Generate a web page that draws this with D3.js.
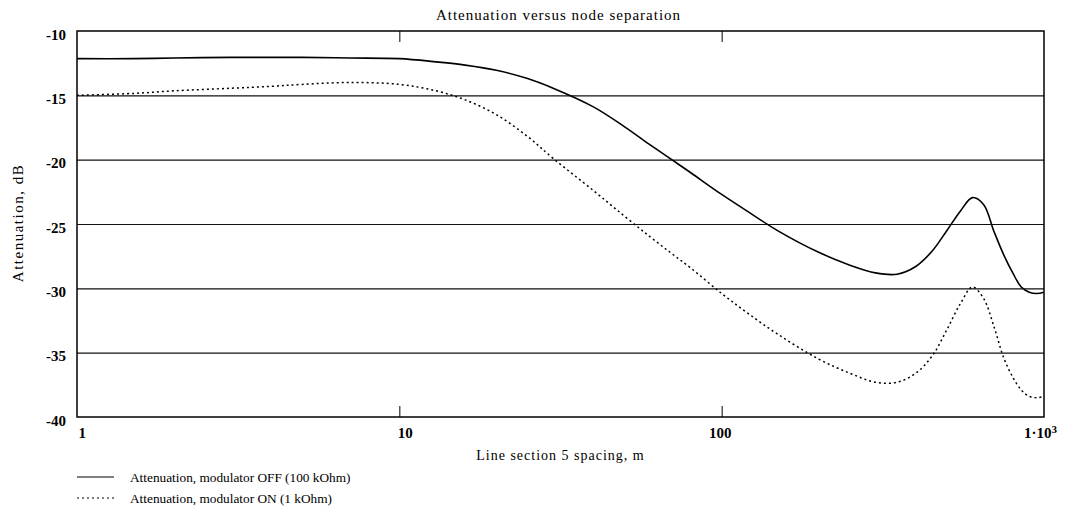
<!DOCTYPE html>
<html>
<head>
<meta charset="utf-8">
<script src="https://cdn.jsdelivr.net/npm/d3@7"></script>
<style>
  body { margin: 0; background: #fff; }
  text { font-family: "Liberation Serif", "Times New Roman", serif; fill: #000; }
</style>
</head>
<body>
<div id="chart"></div>
<script>
var w = 1066;
var h = 511;
var margin = {top: 31, right: 22, bottom: 94, left: 77};

// line section spacing, m
var spacing = [1, 1.5, 2, 3, 4, 5, 7, 10, 13, 16, 20, 25, 30, 40, 50, 60, 70, 80, 100, 120, 150,
               200, 250, 300, 350, 400, 450, 500, 550, 600, 650, 700, 750, 800, 850, 900, 950, 1000];
// attenuation, dB
var modOff = [-12.15, -12.15, -12.1, -12.05, -12.05, -12.05, -12.1, -12.15, -12.4, -12.65, -13.05, -13.7,
              -14.45, -15.9, -17.45, -18.85, -20.0, -21.0, -22.7, -24.0, -25.55, -27.2, -28.2, -28.8,
              -28.9, -28.3, -27.1, -25.5, -24.0, -22.95, -23.5, -25.6, -27.4, -28.8, -29.9, -30.3,
              -30.4, -30.3];
var modOn = [-15.0, -14.85, -14.65, -14.45, -14.3, -14.15, -14.0, -14.15, -14.65, -15.35, -16.5, -18.2,
             -19.9, -22.4, -24.4, -26.0, -27.3, -28.4, -30.4, -31.9, -33.6, -35.5, -36.6, -37.3,
             -37.3, -36.6, -35.25, -33.2, -31.2, -29.9, -30.8, -33.0, -35.4, -36.9, -37.9, -38.4,
             -38.5, -38.4];

var yTicks = [-10, -15, -20, -25, -30, -35, -40];
var yGrid = [-15, -20, -25, -30, -35];
var xTicks = [1, 10, 100, 1000];
var xTickLabels = ["1", "10", "100", "1\u00b710"];
var innerTicks = [10, 100];

var legendLabels = ["Attenuation, modulator OFF (100 kOhm)", "Attenuation, modulator ON (1 kOhm)"];

var x0 = margin.left, x1 = w - margin.right;
var y0 = margin.top, y1 = h - margin.bottom;

var xScale = d3.scaleLog().domain([1, 1000]).range([x0, x1]);
var yScale = d3.scaleLinear().domain([-40, -10]).range([y1, y0]);

var svg = d3.select("#chart")
            .append("svg")
            .attr("width", w)
            .attr("height", h);

// horizontal grid
var grid = d3.axisLeft(yScale).tickValues(yGrid).tickSize(-(x1 - x0)).tickFormat("");
svg.append("g")
   .attr("transform", "translate(" + x0 + ",0)")
   .call(grid)
   .call(function(g) { g.select(".domain").remove(); })
   .selectAll("line")
   .attr("stroke", "#111")
   .attr("stroke-width", 1.2);

// inner ticks on top and bottom
svg.append("g")
   .attr("transform", "translate(0," + y1 + ")")
   .call(d3.axisTop(xScale).tickValues(innerTicks).tickSize(11).tickFormat(""))
   .call(function(g) { g.select(".domain").remove(); })
   .selectAll("line").attr("stroke", "#000");
svg.append("g")
   .attr("transform", "translate(0," + y0 + ")")
   .call(d3.axisBottom(xScale).tickValues(innerTicks).tickSize(11).tickFormat(""))
   .call(function(g) { g.select(".domain").remove(); })
   .selectAll("line").attr("stroke", "#000");

// frame
svg.append("rect")
   .attr("x", x0).attr("y", y0)
   .attr("width", x1 - x0).attr("height", y1 - y0)
   .attr("fill", "none")
   .attr("stroke", "#000")
   .attr("stroke-width", 1.5);

// y tick labels
var yAxis = d3.axisLeft(yScale).tickValues(yTicks).tickSize(0).tickPadding(11)
              .tickFormat(function(d) { return d; });
svg.append("g")
   .attr("transform", "translate(" + x0 + ",0)")
   .call(yAxis)
   .call(function(g) { g.select(".domain").remove(); })
   .selectAll("text")
   .attr("dy", "0.55em")
   .attr("font-size", "15px")
   .attr("font-weight", "bold")
   .attr("font-family", "Liberation Serif");

// x tick labels
var xAxis = d3.axisBottom(xScale).tickValues(xTicks).tickSize(0).tickPadding(10)
              .tickFormat(function(d, i) { return xTickLabels[i]; });
var xg = svg.append("g")
   .attr("transform", "translate(0," + y1 + ")")
   .call(xAxis)
   .call(function(g) { g.select(".domain").remove(); });
xg.selectAll("text")
  .attr("font-size", "15px")
  .attr("font-weight", "bold")
  .attr("font-family", "Liberation Serif")
  .attr("text-anchor", function(d, i) { return i < 2 ? "start" : "middle"; })
  .attr("dx", function(d, i) { return i == 3 ? "-4" : (i == 0 ? "1" : "-2"); });
xg.selectAll("text")
  .filter(function(d) { return d == 1000; })
  .append("tspan")
  .attr("dy", "-0.45em")
  .attr("font-size", "11px")
  .text("3");

// curves
var line = d3.line()
             .x(function(d) { return xScale(d[0]); })
             .y(function(d) { return yScale(d[1]); })
             .curve(d3.curveCatmullRom);

svg.append("path")
   .datum(d3.zip(spacing, modOff))
   .attr("d", line)
   .attr("fill", "none")
   .attr("stroke", "#000")
   .attr("stroke-width", 1.6);

svg.append("path")
   .datum(d3.zip(spacing, modOn))
   .attr("d", line)
   .attr("fill", "none")
   .attr("stroke", "#000")
   .attr("stroke-width", 1.5)
   .attr("stroke-dasharray", "2,3");

// titles
svg.append("text")
   .attr("x", (x0 + x1) / 2 - 2)
   .attr("y", 20)
   .attr("text-anchor", "middle")
   .attr("font-size", "15px")
   .attr("letter-spacing", "1px")
   .text("Attenuation versus node separation");

svg.append("text")
   .attr("x", (x0 + x1) / 2)
   .attr("y", 460)
   .attr("text-anchor", "middle")
   .attr("font-size", "14px")
   .attr("letter-spacing", "1px")
   .text("Line section 5 spacing, m");

svg.append("text")
   .attr("transform", "translate(23," + 223 + ") rotate(-90)")
   .attr("text-anchor", "middle")
   .attr("font-size", "15px")
   .attr("letter-spacing", "1.5px")
   .text("Attenuation, dB");

// legend
var legend = svg.selectAll(".legend")
   .data(legendLabels)
   .enter()
   .append("g")
   .attr("class", "legend")
   .attr("transform", function(d, i) { return "translate(77," + (477 + i * 21) + ")"; });

legend.append("line")
   .attr("x1", 0).attr("x2", 37)
   .attr("stroke", "#000")
   .attr("stroke-width", 1.2)
   .attr("stroke-dasharray", function(d, i) { return i == 0 ? null : "2,3"; });

legend.append("text")
   .attr("x", 53)
   .attr("y", 5)
   .attr("font-size", "13.3px")
   .text(function(d) { return d; });
</script>
</body>
</html>
